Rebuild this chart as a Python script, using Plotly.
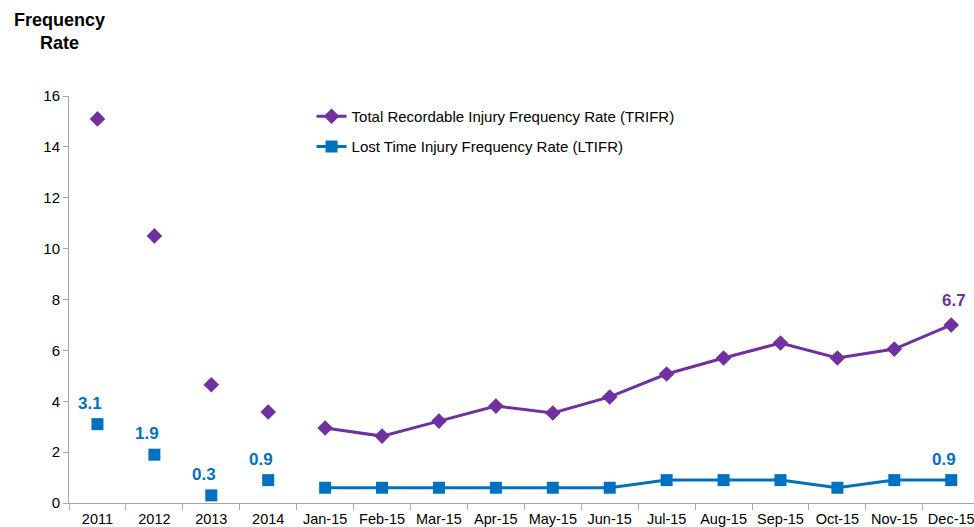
import plotly.graph_objects as go

years = ["2011", "2012", "2013", "2014"]
months = ["Jan-15", "Feb-15", "Mar-15", "Apr-15", "May-15", "Jun-15",
          "Jul-15", "Aug-15", "Sep-15", "Oct-15", "Nov-15", "Dec-15"]
categories = years + months

trifr_years = [15.1, 10.5, 4.65, 3.58]
trifr_months = [2.95, 2.63, 3.22, 3.81, 3.54, 4.17, 5.07, 5.70, 6.29, 5.70, 6.05, 7.0]
ltifr_years = [3.1, 1.9, 0.3, 0.9]
ltifr_months = [0.6, 0.6, 0.6, 0.6, 0.6, 0.6, 0.9, 0.9, 0.9, 0.6, 0.9, 0.9]

# data labels: (category, value, text)
ltifr_labels = [("2011", 3.1, "3.1"), ("2012", 1.9, "1.9"), ("2013", 0.3, "0.3"),
                ("2014", 0.9, "0.9"), ("Dec-15", 0.9, "0.9")]
trifr_labels = [("Dec-15", 7.0, "6.7")]

yticks = [0, 2, 4, 6, 8, 10, 12, 14, 16]

PURPLE = "#7030A0"
BLUE = "#0070C0"
FONT = "Liberation Sans, Arial, sans-serif"

fig = go.Figure()

fig.add_trace(go.Scatter(
    x=months, y=trifr_months, mode="lines+markers",
    name="Total Recordable Injury Frequency Rate (TRIFR)",
    line=dict(color=PURPLE, width=3),
    marker=dict(symbol="diamond", size=12, color=PURPLE),
    legend="legend"))
fig.add_trace(go.Scatter(
    x=years, y=trifr_years, mode="markers", showlegend=False,
    marker=dict(symbol="diamond", size=12, color=PURPLE)))
fig.add_trace(go.Scatter(
    x=months, y=ltifr_months, mode="lines+markers",
    name="Lost Time Injury Frequency Rate (LTIFR)",
    line=dict(color=BLUE, width=3),
    marker=dict(symbol="square", size=12, color=BLUE),
    legend="legend2"))
fig.add_trace(go.Scatter(
    x=years, y=ltifr_years, mode="markers", showlegend=False,
    marker=dict(symbol="square", size=12, color=BLUE)))

for cat, val, txt in ltifr_labels:
    fig.add_annotation(x=categories.index(cat), y=val, text="<b>%s</b>" % txt,
                       showarrow=False, xshift=-7, yshift=21,
                       font=dict(color=BLUE, size=17, family=FONT))
for cat, val, txt in trifr_labels:
    fig.add_annotation(x=categories.index(cat), y=val, text="<b>%s</b>" % txt,
                       showarrow=False, xshift=3, yshift=24,
                       font=dict(color=PURPLE, size=17, family=FONT))

fig.add_annotation(xref="paper", yref="paper", x=-0.011, y=1.0, yanchor="bottom",
                   xanchor="center", yshift=41, align="center",
                   text="<b>Frequency<br>Rate</b>", showarrow=False,
                   font=dict(size=18, color="black", family=FONT))

fig.update_layout(
    width=974, height=527,
    margin=dict(l=69, r=0, t=96, b=24, autoexpand=False),
    plot_bgcolor="white", paper_bgcolor="white",
    font=dict(family=FONT, size=14, color="black"),
    legend=dict(x=0.268, y=0.99, xanchor="left", yanchor="top",
                font=dict(size=15, family=FONT), bgcolor="rgba(0,0,0,0)",
                itemwidth=30),
    legend2=dict(x=0.268, y=0.916, xanchor="left", yanchor="top",
                 font=dict(size=15, family=FONT), bgcolor="rgba(0,0,0,0)",
                 itemwidth=30),
    xaxis=dict(type="category", categoryorder="array", categoryarray=categories,
               showline=True, linecolor="#A6A6A6", linewidth=1,
               ticks="outside", tickson="boundaries", ticklen=6, tickcolor="#A6A6A6",
               showgrid=False, tickfont=dict(size=14.5), range=[-0.5, 15.4],
               tickangle=0, automargin=False, ticklabelstandoff=3),
    yaxis=dict(range=[0, 16], tickvals=yticks, showline=True, linecolor="#A6A6A6",
               linewidth=1, ticks="outside", ticklen=5, tickcolor="#A6A6A6",
               showgrid=False, zeroline=False, tickfont=dict(size=15),
               automargin=False),
)

fig.write_html("out.html", post_script="document.body.style.margin='0';",
               config={"displayModeBar": False})
